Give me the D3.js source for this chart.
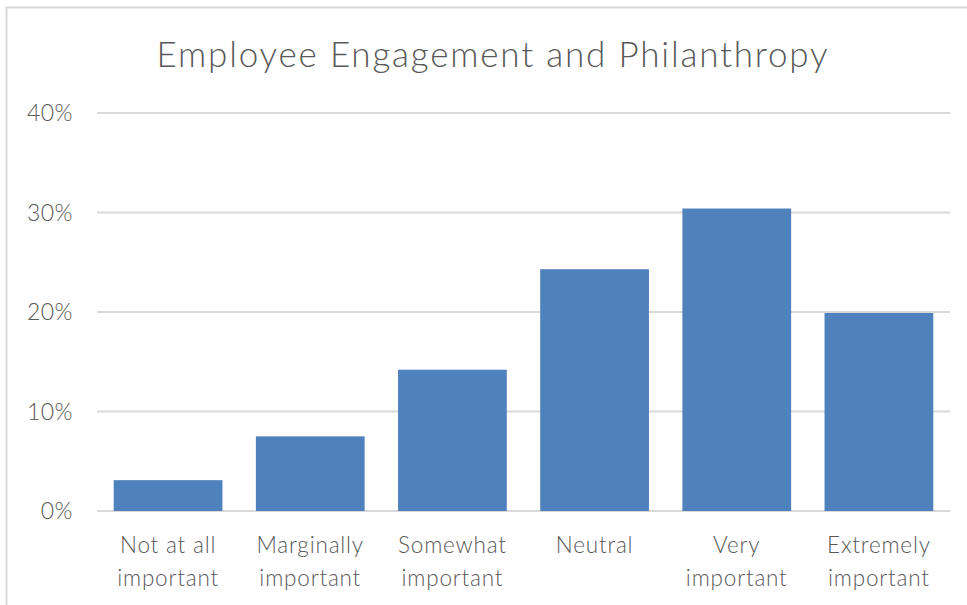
<!DOCTYPE html>
<html>
<head>
<meta charset="utf-8">
<script src="https://cdn.jsdelivr.net/npm/d3@7"></script>
<style>
  body { margin: 0; background: #fff; }
  text { font-family: Lato, "Open Sans", sans-serif; fill: #595959; font-weight: 300; }
</style>
</head>
<body>
<div id="chart"></div>
<script>
const categories = [["Not at all", "important"], ["Marginally", "important"], ["Somewhat", "important"], ["Neutral"], ["Very", "important"], ["Extremely", "important"]];
const values = [3.1, 7.5, 14.2, 24.3, 30.4, 19.9];
const yTicks = [0, 10, 20, 30, 40];
const title = "Employee Engagement and Philanthropy";

const W = 967, H = 605;
const plot = {left: 97, right: 950, top: 113, bottom: 511};

const svg = d3.select("#chart").append("svg")
	.attr("width", W)
	.attr("height", H);

// chart frame
svg.append("rect")
	.attr("x", 6.5).attr("y", 7.5)
	.attr("width", W + 10).attr("height", H + 10)
	.attr("fill", "#fff")
	.attr("stroke", "#d9d9d9")
	.attr("stroke-width", 2);

const x = d3.scaleBand()
	.domain(d3.range(categories.length))
	.range([plot.left, plot.right])
	.paddingInner(0.235)
	.paddingOuter(0.1175);

const y = d3.scaleLinear()
	.domain([0, 40])
	.range([plot.bottom, plot.top]);

// gridlines
svg.append("g")
	.selectAll("line")
	.data(yTicks)
	.enter().append("line")
	.attr("x1", plot.left)
	.attr("x2", plot.right)
	.attr("y1", d => y(d))
	.attr("y2", d => y(d))
	.attr("stroke", "#d9d9d9")
	.attr("stroke-width", 2);

// y tick labels
svg.append("g")
	.selectAll("text")
	.data(yTicks)
	.enter().append("text")
	.attr("x", 73)
	.attr("y", d => y(d) + 8)
	.attr("text-anchor", "end")
	.style("font-size", "23px")
	.style("letter-spacing", "0.5px")
	.text(d => d + "%");

// bars
svg.append("g")
	.selectAll("rect")
	.data(values)
	.enter().append("rect")
	.attr("x", (d, i) => x(i))
	.attr("y", d => y(d))
	.attr("width", x.bandwidth())
	.attr("height", d => y(0) - y(d))
	.attr("fill", "#4f81bd");

// category labels
const labels = svg.append("g")
	.selectAll("text")
	.data(categories)
	.enter().append("text")
	.attr("x", (d, i) => x(i) + x.bandwidth() / 2)
	.attr("y", 553)
	.attr("text-anchor", "middle")
	.style("font-size", "22.5px")
	.style("letter-spacing", "0.8px");

labels.selectAll("tspan")
	.data(d => d)
	.enter().append("tspan")
	.attr("x", function() { return this.parentNode.getAttribute("x"); })
	.attr("dy", (d, i) => i === 0 ? 0 : 33)
	.text(d => d);

svg.append("text")
	.attr("x", 493)
	.attr("y", 67)
	.attr("text-anchor", "middle")
	.style("font-size", "35px")
	.style("letter-spacing", "1.8px")
	.text(title);
</script>
</body>
</html>
